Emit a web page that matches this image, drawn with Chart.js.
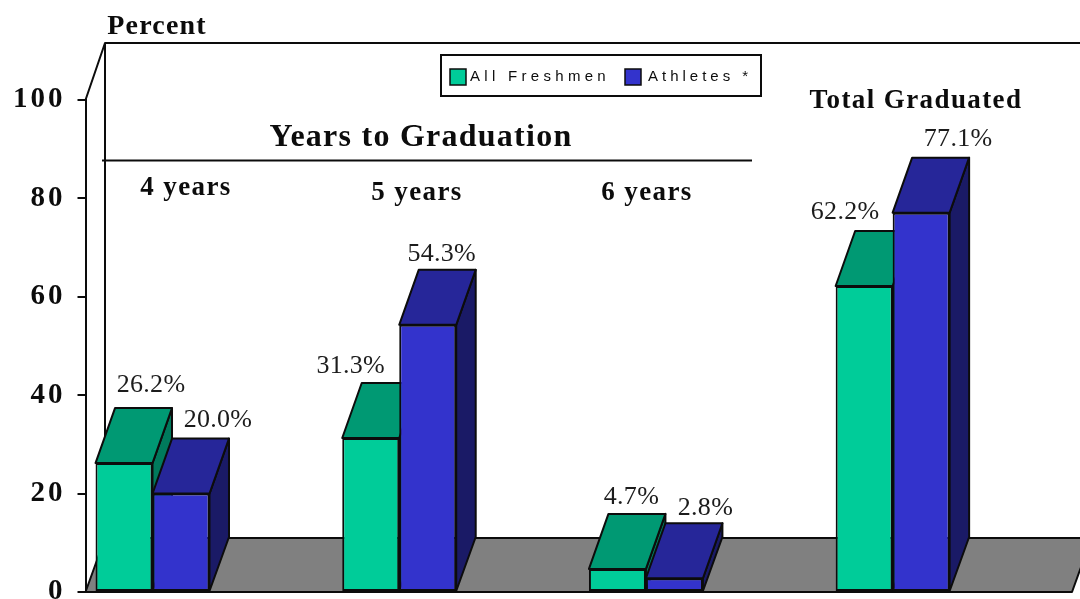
<!DOCTYPE html>
<html><head><meta charset="utf-8">
<script src="https://cdn.jsdelivr.net/npm/chart.js@4"></script>
<style>html,body{margin:0;padding:0;background:#fff}#w{position:absolute;left:0;top:0;width:1080px;height:599px}canvas{display:block}</style>
</head><body><div id="w"><canvas id="c" width="1080" height="599"></canvas></div>
<script>
const categories = ['4 years','5 years','6 years','Total Graduated'];
const allFreshmen = [26.2,31.3,4.7,62.2];
const athletes = [20.0,54.3,2.8,77.1];
const yTicks = [0,20,40,60,80,100];
const seriesNames = ['All Freshmen','Athletes *'];

// label nudges relative to each bar's top centre [dx, dy]
const freshmenLabelNudge = [[27,-78],[-20,-72],[14,-72],[-19,-74]];
const athletesLabelNudge = [[37,-73],[14,-71],[31,-70],[37,-73]];
const catHeadPos = [[186,188],[417,193],[647,193],[916,101]];

const GREEN={front:'#00CC99',top:'#009973',side:'#007A5C'};
const BLUE={front:'#3333CC',top:'#262699',side:'#1A1A66'};
const INK='#0c0c0c', DX=19.5, BAR_DY=-55, FLOOR_DY=-54, WALL_DY=-57;
const SERIF='"Liberation Serif","Times New Roman",serif', SANS='"Liberation Sans",Arial,sans-serif';

function poly(ctx,pts,fill){
  ctx.beginPath();pts.forEach((p,i)=>i?ctx.lineTo(p[0],p[1]):ctx.moveTo(p[0],p[1]));ctx.closePath();
  ctx.fillStyle=fill;ctx.fill();ctx.stroke();
}
function txt(ctx,s,x,y,font,sp,color,align){
  ctx.save();ctx.font=font;ctx.letterSpacing=sp+'px';ctx.fillStyle=color||INK;
  ctx.textAlign=align||'center';ctx.textBaseline='middle';ctx.fillText(s,x,y);ctx.restore();
}
const threeD={
  id:'threeD',
  beforeDraw(chart){chart.ctx.letterSpacing='3px';},
  beforeDatasetsDraw(chart){
    const ctx=chart.ctx,{left,right,top,bottom}=chart.chartArea;
    ctx.letterSpacing='0px';
    ctx.save();ctx.strokeStyle=INK;ctx.lineWidth=2;ctx.lineJoin='round';
    // floor and back wall
    poly(ctx,[[left,bottom],[left+DX,bottom+FLOOR_DY],[right+DX,bottom+FLOOR_DY],[right,bottom]],'#808080');
    ctx.beginPath();ctx.moveTo(left,top);ctx.lineTo(left+DX,top+WALL_DY);ctx.lineTo(1080,top+WALL_DY);
    ctx.moveTo(left+DX,top+WALL_DY);ctx.lineTo(left+DX,bottom+FLOOR_DY);ctx.stroke();
    ctx.beginPath();ctx.moveTo(left-7,bottom);ctx.lineTo(right,bottom);ctx.stroke();
    // bar depth faces
    [[0,GREEN],[1,BLUE]].forEach(([d,col])=>{
      chart.getDatasetMeta(d).data.forEach(b=>{
        const p=b.getProps(['x','y','base','width'],true);
        const l=p.x-p.width/2,r=p.x+p.width/2;
        poly(ctx,[[r,p.y],[r+DX,p.y+BAR_DY],[r+DX,p.base+FLOOR_DY],[r,p.base]],col.side);
        poly(ctx,[[l,p.y],[l+DX,p.y+BAR_DY],[r+DX,p.y+BAR_DY],[r,p.y]],col.top);
      });
    });
    ctx.restore();
  },
  afterDraw(chart){
    const ctx=chart.ctx;
    txt(ctx,'Percent',157,27,'bold 28px '+SERIF,1.2);
    txt(ctx,'Years to Graduation',421,138,'bold 32px '+SERIF,1.25);
    ctx.save();ctx.strokeStyle=INK;ctx.lineWidth=2;ctx.beginPath();ctx.moveTo(102,160.5);ctx.lineTo(752,160.5);ctx.stroke();ctx.restore();
    categories.forEach((c,i)=>txt(ctx,c,catHeadPos[i][0],catHeadPos[i][1],'bold 27px '+SERIF,1.4));
    // value labels
    [[0,allFreshmen,freshmenLabelNudge],[1,athletes,athletesLabelNudge]].forEach(([d,vals,nudge])=>{
      chart.getDatasetMeta(d).data.forEach((b,i)=>{
        const p=b.getProps(['x','y'],true);
        txt(ctx,vals[i].toFixed(1)+'%',p.x+nudge[i][0],p.y+nudge[i][1],'26px '+SERIF,0.3,'#1c1c1c');
      });
    });
    // legend
    ctx.save();ctx.strokeStyle=INK;ctx.lineWidth=2;ctx.fillStyle='#fff';
    ctx.fillRect(441,55,320,41);ctx.strokeRect(441,55,320,41);
    ctx.lineWidth=1.5;
    ctx.fillStyle=GREEN.front;ctx.fillRect(450,69,16,16);ctx.strokeRect(450,69,16,16);
    ctx.fillStyle=BLUE.front;ctx.fillRect(625,69,16,16);ctx.strokeRect(625,69,16,16);
    ctx.restore();
    txt(ctx,seriesNames[0],470,77,'15px '+SANS,4.3,INK,'left');
    txt(ctx,seriesNames[1],648,77,'15px '+SANS,4,INK,'left');
  }
};
new Chart(document.getElementById('c'),{
  type:'bar',
  data:{datasets:[
    {label:seriesNames[0],data:allFreshmen.map((v,i)=>({x:i,y:v})),backgroundColor:GREEN.front,borderColor:INK,borderWidth:2,borderSkipped:false,categoryPercentage:0.462,barPercentage:1},
    {label:seriesNames[1],data:athletes.map((v,i)=>({x:i,y:v})),backgroundColor:BLUE.front,borderColor:INK,borderWidth:2,borderSkipped:false,categoryPercentage:0.462,barPercentage:1}
  ]},
  options:{
    responsive:false,animation:false,
    layout:{autoPadding:false,padding:{top:100,bottom:7,right:8,left:0}},
    plugins:{legend:{display:false},tooltip:{enabled:false},title:{display:false}},
    scales:{
      x:{type:'linear',offset:false,min:-0.2716,max:3.727,display:false,ticks:{display:false},
        afterBuildTicks(s){s.ticks=categories.map((c,i)=>({value:i}));}},
      y:{min:0,max:100,
        afterFit(s){s.width=85.5;s.paddingTop=0;s.paddingBottom=0;},
        afterBuildTicks(s){s.ticks=yTicks.map(v=>({value:v}));},
        grid:{drawOnChartArea:false,color:INK,lineWidth:2,tickLength:8,tickColor:INK},
        border:{color:INK,width:2},
        ticks:{color:INK,padding:12,font:{family:SERIF,weight:'bold',size:29}}
      }
    }
  },
  plugins:[threeD]
});
</script></body></html>
